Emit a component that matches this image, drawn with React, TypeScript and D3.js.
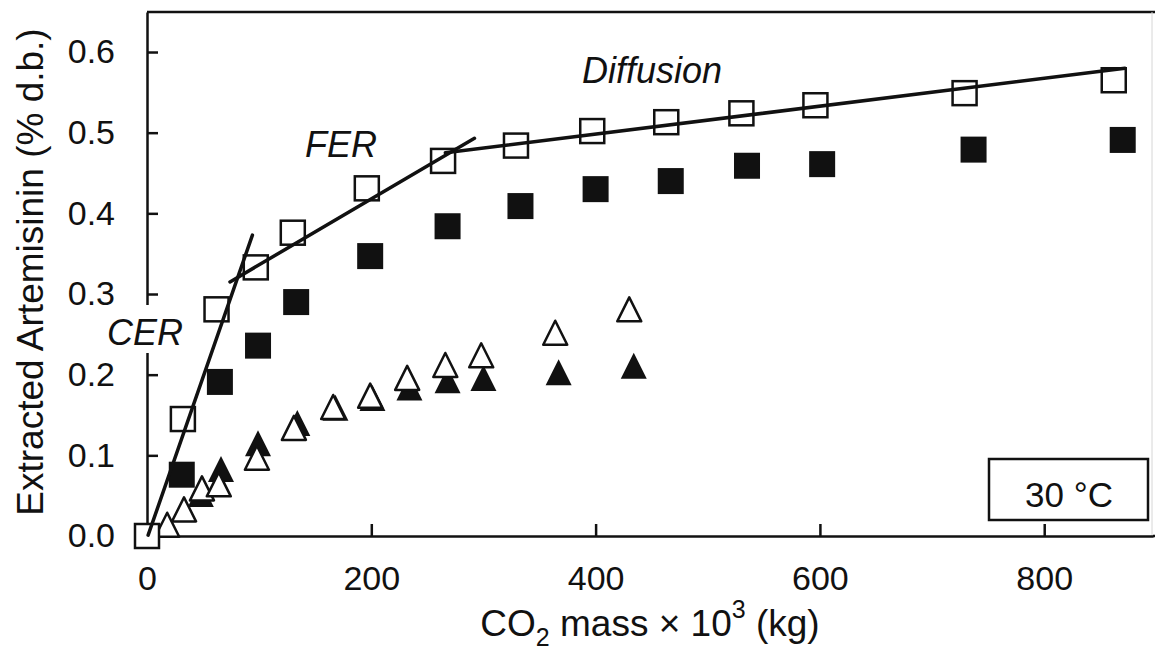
import * as d3 from 'd3';
import React, { useRef, useEffect } from 'react';

// CO2 mass (x 10^3 kg) and extracted artemisinin (% d.b.)
const openSquareX = [0, 32, 62, 97, 130, 196, 264, 329, 397, 463, 530, 596, 729, 862];
const openSquareY = [0, 0.145, 0.281, 0.333, 0.376, 0.431, 0.465, 0.484, 0.502, 0.513, 0.524, 0.534, 0.549, 0.565];

const filledSquareX = [31, 65, 99, 133, 199, 268, 333, 400, 467, 535, 602, 737, 870];
const filledSquareY = [0.076, 0.191, 0.236, 0.29, 0.347, 0.384, 0.409, 0.43, 0.44, 0.459, 0.461, 0.479, 0.491];

const openTriangleX = [18, 33, 49, 64, 98, 131, 166, 199, 232, 266, 298, 364, 430];
const openTriangleY = [0.014, 0.033, 0.059, 0.064, 0.097, 0.134, 0.16, 0.174, 0.196, 0.212, 0.224, 0.252, 0.281];

const filledTriangleX = [48, 66, 99, 134, 168, 201, 234, 268, 300, 367, 434];
const filledTriangleY = [0.052, 0.083, 0.115, 0.14, 0.159, 0.171, 0.184, 0.193, 0.196, 0.203, 0.211];

// fitted regimes
const cerLine = [[1, 0.001], [94, 0.373]];
const ferLine = [[74, 0.315], [292, 0.493]];
const diffusionLine = [[266, 0.475], [872, 0.58]];

const xTicks = [0, 200, 400, 600, 800];
const yTicks = [0, 0.1, 0.2, 0.3, 0.4, 0.5, 0.6];

const zip = (xs, ys) => xs.map((x, i) => [x, ys[i]]);

function App() {
    const ref = useRef();

    useEffect(() => {
        const svg = d3.select(ref.current);
        svg.selectAll('*').remove();
        draw(svg);
    }, []);

    const draw = (svg) => {
        const font = "'Liberation Sans', Arial, Helvetica, sans-serif";
        const left = 147, right = 1153, top = 12, bottom = 536;

        const x = d3.scaleLinear().domain([0, 897]).range([left, right]);
        const y = d3.scaleLinear().domain([0, 0.6496]).range([bottom, top]);

        svg.append('rect').attr('width', 1155).attr('height', 652).attr('fill', 'white');

        // frame top and faint right edge
        svg.append('line')
            .attr('x1', left).attr('x2', 1155).attr('y1', top).attr('y2', top)
            .attr('stroke', '#111').attr('stroke-width', 2.5);
        svg.append('line')
            .attr('x1', 1152).attr('x2', 1152).attr('y1', top).attr('y2', bottom)
            .attr('stroke', '#d6d6d6').attr('stroke-width', 1);

        const yAxis = svg.append('g')
            .attr('transform', 'translate(' + left + ',0)')
            .call(d3.axisLeft(y).tickValues(yTicks).tickSizeInner(-11).tickSizeOuter(0)
                .tickPadding(32).tickFormat(d3.format('.1f')));

        const xAxis = svg.append('g')
            .attr('transform', 'translate(0,' + bottom + ')')
            .call(d3.axisBottom(x).tickValues(xTicks).tickSizeInner(-12).tickSizeOuter(0)
                .tickPadding(30));
        // extend bottom axis to the right edge
        svg.append('line')
            .attr('x1', right).attr('x2', 1155).attr('y1', bottom).attr('y2', bottom)
            .attr('stroke', '#111').attr('stroke-width', 2.5);

        [yAxis, xAxis].forEach(g => {
            g.selectAll('path, line').attr('stroke', '#111').attr('stroke-width', 2.5);
            g.selectAll('text')
                .attr('fill', '#111')
                .style('font-family', font)
                .style('font-size', '34px');
        });

        // axis titles
        svg.append('text')
            .attr('transform', 'translate(43,272) rotate(-90)')
            .attr('text-anchor', 'middle')
            .style('font-family', font)
            .style('font-size', '37px')
            .attr('fill', '#111')
            .text('Extracted Artemisinin (% d.b.)');

        const xt = svg.append('text')
            .attr('x', 650).attr('y', 636)
            .attr('text-anchor', 'middle')
            .style('font-family', font)
            .style('font-size', '37px')
            .attr('fill', '#111');
        xt.append('tspan').text('CO');
        xt.append('tspan').attr('dy', 10).style('font-size', '25px').text('2');
        xt.append('tspan').attr('dy', -10).text(' mass \u00d7 10');
        xt.append('tspan').attr('dy', -18).style('font-size', '25px').text('3');
        xt.append('tspan').attr('dy', 18).text(' (kg)');

        // regime labels
        svg.append('rect')
            .attr('x', 104).attr('y', 305).attr('width', 80).attr('height', 48)
            .attr('fill', 'white');
        const labels = [
            { t: 'CER', x: 107, y: 345 },
            { t: 'FER', x: 305, y: 157 },
            { t: 'Diffusion', x: 582, y: 83 }
        ];
        labels.forEach(l => {
            svg.append('text')
                .attr('x', l.x).attr('y', l.y)
                .style('font-family', font)
                .style('font-size', '36px')
                .style('font-style', 'italic')
                .attr('fill', '#111')
                .text(l.t);
        });

        // temperature box
        svg.append('rect')
            .attr('x', 989).attr('y', 459).attr('width', 159).attr('height', 61)
            .attr('fill', 'white').attr('stroke', '#111').attr('stroke-width', 2.5);
        svg.append('text')
            .attr('x', 1069).attr('y', 507)
            .attr('text-anchor', 'middle')
            .style('font-family', font)
            .style('font-size', '35px')
            .attr('fill', '#111')
            .text('30 \u00b0C');

        const tri = (cx, cy, h) =>
            'M' + cx + ',' + (cy - h) + 'L' + (cx + h) + ',' + (cy + h) + 'L' + (cx - h) + ',' + (cy + h) + 'Z';

        // filled triangles below open ones
        svg.append('g').selectAll('path')
            .data(zip(filledTriangleX, filledTriangleY))
            .enter().append('path')
            .attr('d', d => tri(x(d[0]), y(d[1]), 13))
            .attr('fill', '#111');

        svg.append('g').selectAll('path')
            .data(zip(openTriangleX, openTriangleY))
            .enter().append('path')
            .attr('d', d => tri(x(d[0]), y(d[1]), 12))
            .attr('fill', 'white')
            .attr('stroke', '#111')
            .attr('stroke-width', 2.5)
            .attr('stroke-linejoin', 'round');

        svg.append('g').selectAll('rect')
            .data(zip(filledSquareX, filledSquareY))
            .enter().append('rect')
            .attr('x', d => x(d[0]) - 13)
            .attr('y', d => y(d[1]) - 13)
            .attr('width', 26).attr('height', 26)
            .attr('fill', '#111');

        svg.append('g').selectAll('rect')
            .data(zip(openSquareX, openSquareY))
            .enter().append('rect')
            .attr('x', d => x(d[0]) - 12)
            .attr('y', d => y(d[1]) - 12)
            .attr('width', 24).attr('height', 24)
            .attr('fill', 'white')
            .attr('stroke', '#111')
            .attr('stroke-width', 2.5);

        const line = d3.line().x(d => x(d[0])).y(d => y(d[1]));
        [cerLine, ferLine, diffusionLine].forEach(seg => {
            svg.append('path')
                .attr('d', line(seg))
                .attr('fill', 'none')
                .attr('stroke', '#111')
                .attr('stroke-width', 3.5)
                .attr('stroke-linecap', 'round');
        });
    };

    return (
        <svg ref={ref} width={1155} height={652}
            style={{ position: 'absolute', left: 0, top: 0, display: 'block' }}>
        </svg>
    );
}

export default App;
